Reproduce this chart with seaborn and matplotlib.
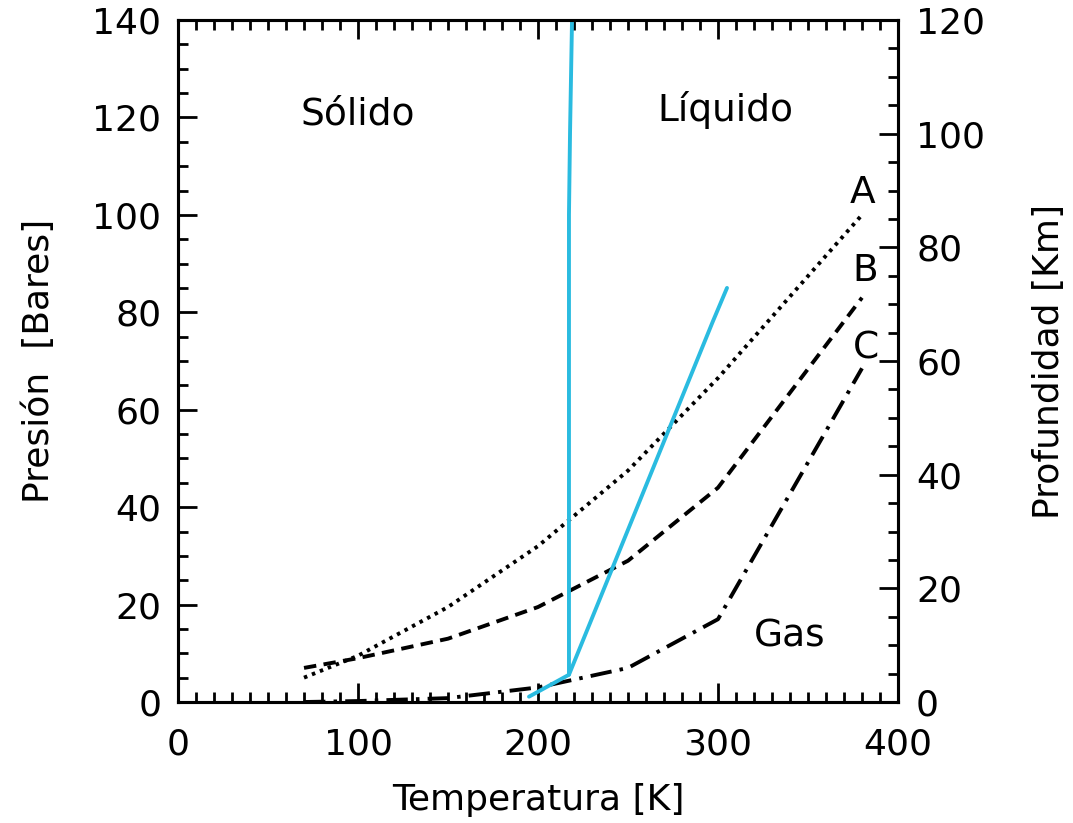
import numpy as np
import pandas as pd
import matplotlib
matplotlib.use("Agg")
import matplotlib.pyplot as plt
from matplotlib.ticker import MultipleLocator
import seaborn as sns

sns.set_style("ticks", {"text.color": "black", "axes.edgecolor": "black",
                        "xtick.color": "black", "ytick.color": "black",
                        "axes.labelcolor": "black"})
plt.rcParams['font.family'] = ['DejaVu Sans']

# temperature points [K] shared by the three profiles
temp = [70, 100, 150, 200, 250, 300, 380]
pres_a = [5.0, 9.5, 19.5, 32.0, 47.5, 66.5, 100.0]
pres_b = [7.0, 9.0, 13.0, 19.5, 29.0, 44.0, 83.0]
pres_c = [0.0, 0.2, 0.8, 3.0, 7.0, 17.0, 68.5]

# phase boundaries
melt_t = [217.2, 217.2, 217.8, 218.9]
melt_p = [5.6, 100.0, 117.0, 140.0]
vap_t = [195.0, 217.2, 297.0, 305.0]
vap_p = [1.1, 5.6, 78.0, 85.0]

blue = "#2ABBE0"
fs = 26

fig = plt.figure(figsize=(10.73, 8.23), dpi=100)
ax = fig.add_axes([0.1659, 0.147, 0.6710, 0.8287])

df = pd.DataFrame({"T": temp, "A": pres_a, "B": pres_b, "C": pres_c})
sns.lineplot(data=df, x="T", y="A", ax=ax, color="black", lw=2.8, linestyle=(0, (0.9, 1.3)))
sns.lineplot(data=df, x="T", y="B", ax=ax, color="black", lw=2.8, linestyle=(0, (3.2, 1.9)))
sns.lineplot(data=df, x="T", y="C", ax=ax, color="black", lw=2.8, linestyle=(0, (5.5, 2.1, 0.9, 2.1)))
sns.lineplot(x=melt_t, y=melt_p, ax=ax, color=blue, lw=2.8, sort=False, estimator=None)
sns.lineplot(x=vap_t, y=vap_p, ax=ax, color=blue, lw=2.8, sort=False, estimator=None)

ax.set_xlim(0, 400)
ax.set_ylim(0, 140)
ax.xaxis.set_major_locator(MultipleLocator(100))
ax.xaxis.set_minor_locator(MultipleLocator(10))
ax.yaxis.set_major_locator(MultipleLocator(20))
ax.yaxis.set_minor_locator(MultipleLocator(5))
ax.tick_params(which="both", direction="in", top=True, right=False, width=2, labelsize=fs)
ax.tick_params(axis="x", pad=18)
ax.tick_params(axis="y", pad=12)
ax.tick_params(which="major", length=14)
ax.tick_params(which="minor", length=7)
for s in ax.spines.values():
    s.set_linewidth(2.2)
ax.set_xlabel("Temperatura [K]", fontsize=fs, labelpad=16)
ax.set_ylabel("Presión  [Bares]", fontsize=fs, labelpad=26)

ax2 = ax.twinx()
ax2.set_ylim(0, 120)
ax2.yaxis.set_major_locator(MultipleLocator(20))
ax2.yaxis.set_minor_locator(MultipleLocator(5))
ax2.tick_params(which="both", direction="in", width=2, labelsize=fs, pad=13)
ax2.tick_params(which="major", length=14)
ax2.tick_params(which="minor", length=7)
for s in ax2.spines.values():
    s.set_linewidth(2.2)
ax2.set_ylabel("Profundidad [Km]", fontsize=fs, labelpad=34)

ax.text(100, 120.5, "Sólido", fontsize=27, ha="center", va="center")
ax.text(304, 121.5, "Líquido", fontsize=27, ha="center", va="center")
ax.text(340, 13.5, "Gas", fontsize=27, ha="center", va="center")
ax.text(380.5, 104.5, "A", fontsize=27, ha="center", va="center")
ax.text(382, 88.5, "B", fontsize=27, ha="center", va="center")
ax.text(382, 72.5, "C", fontsize=27, ha="center", va="center")

fig.savefig("out.png", dpi=100)
